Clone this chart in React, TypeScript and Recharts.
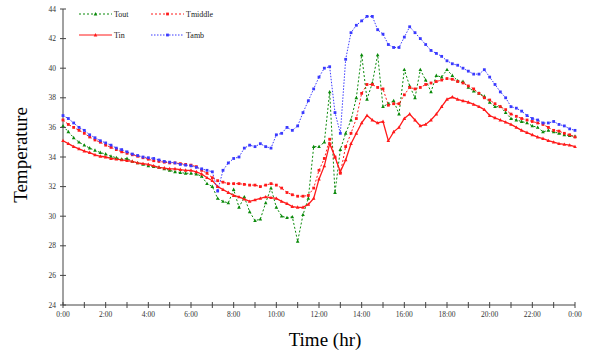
import { Label, Legend, Line, LineChart, XAxis, YAxis } from 'recharts'

// readings every 15 minutes, 0:00 to 24:00
const tout = [
  36.1, 35.7, 35.3, 35.0, 34.8, 34.6, 34.45, 34.3, 34.2, 34.05,
  33.95, 33.85, 33.9, 33.7, 33.6, 33.5, 33.4, 33.35, 33.3, 33.2,
  33.1, 33.0, 32.95, 32.9, 32.9, 32.85, 32.7, 32.2, 32.0, 31.2,
  31.0, 30.9, 31.8, 30.6, 31.3, 30.3, 29.7, 29.8, 30.9, 31.9,
  30.6, 30.0, 29.9, 29.95, 28.3, 30.1, 31.2, 34.7, 34.7, 35.0,
  38.4, 31.6, 34.5, 35.6, 36.5, 38.0, 40.9, 37.9, 39.0, 40.9,
  37.4, 37.6, 37.8, 36.9, 39.9, 38.8, 38.0, 39.9, 39.2, 38.4,
  39.5, 39.4, 39.9, 39.5, 39.15, 39.1, 38.7, 38.45, 38.3, 38.1,
  37.7, 37.4, 37.4, 37.0, 36.6, 36.5, 36.4, 36.3, 36.1, 36.0,
  35.7, 35.8, 35.7, 35.6, 35.5, 35.45, 35.4,
]

const tmiddle = [
  36.5, 36.2, 36.0, 35.8, 35.6, 35.35, 35.15, 35.0, 34.8, 34.65,
  34.5, 34.35, 34.25, 34.15, 34.05, 33.95, 33.85, 33.75, 33.7, 33.65,
  33.6, 33.6, 33.55, 33.5, 33.45, 33.35, 33.1, 32.9, 32.6, 32.4,
  32.3, 32.2, 32.2, 32.2, 32.15, 32.1, 32.1, 32.0, 32.1, 32.2,
  32.1, 31.9, 31.6, 31.45, 31.35, 31.35, 31.4, 31.9, 33.1, 33.9,
  35.2, 34.0, 32.9, 34.7, 35.6, 36.6, 38.3, 38.9, 38.9, 38.7,
  38.6, 37.5, 37.6, 37.6, 38.2, 38.7, 38.6, 38.7, 38.9, 39.0,
  39.1, 39.2, 39.3, 39.25, 39.1, 39.0, 38.8, 38.6, 38.3, 38.0,
  37.85, 37.6, 37.4, 37.2, 36.9, 36.75, 36.6, 36.5, 36.4, 36.3,
  36.2, 36.0, 35.8, 35.75, 35.6, 35.5, 35.35,
]

const tin = [
  35.1, 34.9, 34.7, 34.55, 34.4, 34.3, 34.15, 34.05, 34.0, 33.9,
  33.85, 33.8, 33.75, 33.7, 33.6, 33.55, 33.5, 33.4, 33.3, 33.25,
  33.2, 33.2, 33.15, 33.1, 33.1, 33.0, 32.85, 32.6, 32.4, 32.0,
  31.8, 31.6, 31.4, 31.3, 31.15, 31.0, 31.1, 31.2, 31.3, 31.25,
  31.2, 31.0, 30.85, 30.65, 30.6, 30.6, 30.8, 31.2, 32.5, 33.4,
  34.9, 34.0, 33.0, 33.8, 34.9, 35.6, 36.3, 36.8, 36.5, 36.3,
  36.4, 35.1, 35.7, 36.0, 36.6, 36.9, 36.5, 36.1, 36.2, 36.5,
  36.9, 37.4, 37.9, 38.05, 37.9, 37.8, 37.7, 37.55, 37.4, 37.2,
  36.8, 36.65, 36.5, 36.35, 36.2, 36.0, 35.8, 35.65, 35.5, 35.35,
  35.25, 35.1, 35.0, 34.9, 34.85, 34.8, 34.7,
]

const tamb = [
  36.8, 36.6, 36.3, 36.0, 35.8, 35.5, 35.3, 35.1, 34.95, 34.8,
  34.6, 34.5, 34.35, 34.2, 34.1, 34.0, 33.95, 33.9, 33.8, 33.7,
  33.65, 33.6, 33.5, 33.45, 33.4, 33.3, 33.2, 33.1, 33.0, 31.7,
  33.1, 33.6, 33.9, 34.0, 34.6, 34.8, 34.7, 34.9, 34.7, 34.6,
  35.5, 35.6, 36.0, 35.8, 36.1, 37.0, 37.8, 38.6, 39.4, 40.0,
  40.1, 37.0, 35.6, 40.6, 42.4, 42.9, 43.2, 43.5, 43.5, 42.6,
  42.3, 41.6, 41.4, 41.4, 42.1, 42.8, 42.4, 42.0, 41.6, 41.2,
  41.0, 40.8, 40.5, 40.3, 40.2, 40.0, 39.8, 39.6, 39.6, 39.9,
  39.4, 38.9, 38.4, 38.0, 37.4, 37.3, 37.1, 36.8, 36.6, 36.5,
  36.3, 36.3, 36.4, 36.2, 36.1, 35.9, 35.8,
]

const hourTicks = [0, 1, 2, 3, 4, 5, 6, 7, 8, 9, 10, 11, 12, 13, 14, 15, 16, 17, 18, 19, 20, 21, 22, 23, 24]
const tempTicks = [24, 26, 28, 30, 32, 34, 36, 38, 40, 42, 44]

const data = tout.map((v, i) => ({
  hour: i / 4,
  Tout: v,
  Tmiddle: tmiddle[i],
  Tin: tin[i],
  Tamb: tamb[i],
}))

const GREEN = '#0a8a0a'
const RED = '#ff1a1a'
const BLUE = '#3a3aff'
const AXIS = '#444'
const serif = '"Liberation Serif", "Times New Roman", serif'

const series = [
  { key: 'Tout', color: GREEN, dash: '2 2', marker: 'tri' },
  { key: 'Tmiddle', color: RED, dash: '2 2', marker: 'sq' },
  { key: 'Tin', color: RED, dash: undefined, marker: 'tri' },
  { key: 'Tamb', color: BLUE, dash: '1.5 1.5', marker: 'sq' },
]

function Marker({ cx, cy, color, shape }: { cx: number; cy: number; color: string; shape: string }) {
  if (shape === 'tri') {
    return <path d={`M${cx},${cy - 2} L${cx + 1.8},${cy + 1.4} L${cx - 1.8},${cy + 1.4} Z`} fill={color} />
  }
  return <rect x={cx - 1.4} y={cy - 1.4} width={2.8} height={2.8} fill={color} />
}

function renderLegend() {
  return (
    <div
      style={{
        display: 'grid',
        gridTemplateColumns: '72px 80px',
        rowGap: 9,
        fontFamily: serif,
        fontSize: 8,
        color: '#222',
      }}
    >
      {series.map((s) => (
        <div key={s.key} style={{ display: 'flex', alignItems: 'center', height: 12 }}>
          <svg width={35} height={8}>
            <line x1={1} y1={4} x2={34} y2={4} stroke={s.color} strokeWidth={1} strokeDasharray={s.dash} />
            <Marker cx={17.5} cy={4} color={s.color} shape={s.marker} />
          </svg>
          <span style={{ marginLeft: 1 }}>{s.key}</span>
        </div>
      ))}
    </div>
  )
}

const fmtHour = (h: number) => (h % 2 === 0 ? `${h % 24}:00` : '')

// ticks that cross the axis line, as in the original
function HourTick({ x, y, payload }: any) {
  return (
    <g>
      <line x1={x} x2={x} y1={y - 10} y2={y - 4} stroke={AXIS} />
      <text x={x} y={y} dy="0.71em" textAnchor="middle" fontFamily={serif} fontSize={7.5} fill="#333">
        {fmtHour(payload.value)}
      </text>
    </g>
  )
}

function TempTick({ x, y, payload }: any) {
  return (
    <g>
      <line x1={x + 4} x2={x + 10} y1={y} y2={y} stroke={AXIS} />
      <text x={x} y={y} dy="0.355em" textAnchor="end" fontFamily={serif} fontSize={7.5} fill="#333">
        {payload.value}
      </text>
    </g>
  )
}

export default function App() {
  return (
    <div style={{ position: 'absolute', left: 0, top: 0, width: 590, height: 352, background: '#fff' }}>
      <LineChart width={590} height={352} data={data} margin={{ top: 9, right: 15, bottom: 0, left: 0 }}>
        <XAxis
          dataKey="hour"
          type="number"
          domain={[0, 24]}
          ticks={hourTicks}
          interval={0}
          height={47}
          stroke={AXIS}
          tickLine={false}
          tickSize={3}
          tickMargin={4}
          tick={<HourTick />}
        >
          <Label
            content={() => (
              <text x={325} y={346} textAnchor="middle" fontFamily={serif} fontSize={19} fill="#000">
                Time (hr)
              </text>
            )}
          />
        </XAxis>
        <YAxis
          type="number"
          domain={[24, 44]}
          ticks={tempTicks}
          interval={0}
          width={63}
          stroke={AXIS}
          tickLine={false}
          tickSize={3}
          tickMargin={4}
          tick={<TempTick />}
        >
          <Label
            content={() => (
              <text
                x={27}
                y={155}
                transform="rotate(-90 27 155)"
                textAnchor="middle"
                fontFamily={serif}
                fontSize={19}
                fill="#000"
              >
                Temperature
              </text>
            )}
          />
        </YAxis>
        <Legend
          content={renderLegend}
          layout="horizontal"
          verticalAlign="middle"
          align="center"
          wrapperStyle={{ left: 78, top: 8, width: 170, height: 40 }}
        />
        {series.map((s) => (
          <Line
            key={s.key}
            dataKey={s.key}
            type="linear"
            stroke={s.color}
            strokeWidth={s.key === 'Tin' ? 1.3 : 1}
            strokeDasharray={s.dash}
            isAnimationActive={false}
            dot={(p: any) => (
              <Marker key={`${s.key}-${p.index}`} cx={p.cx} cy={p.cy} color={s.color} shape={s.marker} />
            )}
            activeDot={false}
          />
        ))}
      </LineChart>
    </div>
  )
}
